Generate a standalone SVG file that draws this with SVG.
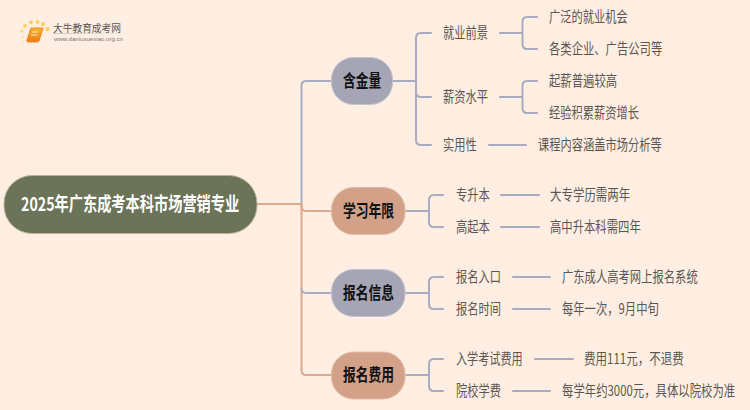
<svg xmlns="http://www.w3.org/2000/svg" width="750" height="410" viewBox="0 0 750 410">
<defs>
<linearGradient id="book" x1="0" y1="0" x2="0" y2="1"><stop offset="0" stop-color="#f7b32e"/><stop offset="1" stop-color="#ea7f12"/></linearGradient>
<linearGradient id="rule" x1="0" y1="0" x2="1" y2="0"><stop offset="0" stop-color="#cfc8c0"/><stop offset="1" stop-color="#cfc8c0" stop-opacity="0"/></linearGradient>
</defs>
<style>
text{font-family:"Noto Sans CJK SC","Liberation Sans",sans-serif;dominant-baseline:central}
.leaf{font-size:15px;fill:#5a5654}
.main{font-size:17px;font-weight:700;fill:#111}
.root{font-size:19px;font-weight:700;fill:#fff}
.c{fill:none;stroke-width:2;stroke-linecap:round}
.b{stroke:#a9abc0}
.t{stroke:#dba98d}
.nb{fill:#a5a5b5;stroke:#c4c4d0;stroke-width:1}
.nt{fill:#d2a187;stroke:#e3bca6;stroke-width:1}
</style>
<rect width="750" height="410" fill="#ffeee1"/>
<g id="logo">
<circle cx="25" cy="26" r="2" fill="#fbd36b"/><circle cx="22" cy="31" r="1.500" fill="#fbd36b"/><circle cx="31" cy="22.500" r="2" fill="#fbcf5e"/><circle cx="37.500" cy="22" r="2" fill="#fbcf5e"/><circle cx="43" cy="24" r="2" fill="#fbcf5e"/><circle cx="47.500" cy="29" r="2.200" fill="#fbd36b"/><circle cx="23" cy="37" r="1.200" fill="#fce0a0"/><circle cx="23.500" cy="42" r="1" fill="#fce0a0"/>
<path d="M31 28H43L39 41Q38 42 37 42H28Q26.500 42 27 40Z" fill="url(#book)" stroke="#e98a1c" stroke-width="1"/>
<path d="M32 32H38M31 35H37" stroke="#fff1c8" stroke-width="1" fill="none"/>
<text x="53" y="27" style="font-size:10px;fill:#555" textLength="68" lengthAdjust="spacingAndGlyphs">大牛教育成考网</text>
<rect x="53" y="33" width="80" height="1" fill="url(#rule)"/>
<text x="54" y="39" style="font-size:6px;fill:#777;font-family:'Liberation Sans',sans-serif" textLength="69" lengthAdjust="spacingAndGlyphs">www.daniuxuexiao.org.cn</text>
</g>
<g id="connectors">
<path class="c t" d="M257 204H301"/>
<path class="c b" d="M331 81H306Q301.500 81 301.500 86V204"/>
<path class="c t" d="M301.500 204V206Q301.500 211 306 211H331"/>
<path class="c t" d="M301.500 204V370Q301.500 375 306 375H331"/>
<path class="c b" d="M331 293H306Q302 293 301.500 289"/>
<path class="c b" d="M393 81H416"/>
<path class="c b" d="M431 33H421Q416 33 416 38V140Q416 145 421 145H431"/>
<path class="c b" d="M416 92Q416 97 421 97H431"/>
<path class="c b" d="M500 33H522M537 17H527Q522.500 17 522.500 22V44Q522.500 49 527 49H537"/>
<path class="c b" d="M500 97H522M537 81H527Q522.500 81 522.500 86V108Q522.500 113 527 113H537"/>
<path class="c b" d="M489 145H526"/>
<path class="c b" d="M406 211H429M443 195H434Q429 195 429 200V222Q429 227 434 227H443"/>
<path class="c b" d="M501 195H539M501 227H539"/>
<path class="c b" d="M406 293H429M443 277H434Q429 277 429 282V304Q429 309 434 309H443"/>
<path class="c b" d="M513 277H550M513 309H550"/>
<path class="c b" d="M406 375H429M443 359H434Q429 359 429 364V386Q429 391 434 391H443"/>
<path class="c b" d="M535 359H573M513 391H550"/>
</g>
<g id="root"><rect x="4" y="175.500" width="253" height="58" rx="28" fill="#6b7358" stroke="#b7b296"/><text class="root" transform="translate(21 203) scale(.75 1)" textLength="291" lengthAdjust="spacingAndGlyphs">2025年广东成考本科市场营销专业</text></g>
<g id="n1"><rect class="nb" x="331.500" y="57.500" width="61" height="47" rx="22"/><text class="main" transform="translate(343 80) scale(.75 1)" textLength="51" lengthAdjust="spacingAndGlyphs">含金量</text></g>
<g id="n2"><rect class="nt" x="331.500" y="187.500" width="73.500" height="47" rx="22"/><text class="main" transform="translate(343 210) scale(.75 1)" textLength="68" lengthAdjust="spacingAndGlyphs">学习年限</text></g>
<g id="n3"><rect class="nb" x="331.500" y="269.500" width="73.500" height="47" rx="22"/><text class="main" transform="translate(343 292) scale(.75 1)" textLength="68" lengthAdjust="spacingAndGlyphs">报名信息</text></g>
<g id="n4"><rect class="nt" x="331.500" y="352" width="73.500" height="47" rx="22"/><text class="main" transform="translate(343 374) scale(.75 1)" textLength="68" lengthAdjust="spacingAndGlyphs">报名费用</text></g>
<g id="l1"><text class="leaf" transform="translate(443 32) scale(.75 1)" textLength="60" lengthAdjust="spacingAndGlyphs">就业前景</text></g>
<g id="l2"><text class="leaf" transform="translate(549 16) scale(.75 1)" textLength="105" lengthAdjust="spacingAndGlyphs">广泛的就业机会</text></g>
<g id="l3"><text class="leaf" transform="translate(549 48) scale(.75 1)" textLength="151" lengthAdjust="spacingAndGlyphs">各类企业、广告公司等</text></g>
<g id="l4"><text class="leaf" transform="translate(443 96) scale(.75 1)" textLength="60" lengthAdjust="spacingAndGlyphs">薪资水平</text></g>
<g id="l5"><text class="leaf" transform="translate(549 80) scale(.75 1)" textLength="91" lengthAdjust="spacingAndGlyphs">起薪普遍较高</text></g>
<g id="l6"><text class="leaf" transform="translate(549 112) scale(.75 1)" textLength="120" lengthAdjust="spacingAndGlyphs">经验积累薪资增长</text></g>
<g id="l7"><text class="leaf" transform="translate(443 144) scale(.75 1)" textLength="45" lengthAdjust="spacingAndGlyphs">实用性</text></g>
<g id="l8"><text class="leaf" transform="translate(538 144) scale(.75 1)" textLength="165" lengthAdjust="spacingAndGlyphs">课程内容涵盖市场分析等</text></g>
<g id="l9"><text class="leaf" transform="translate(456 194) scale(.75 1)" textLength="45" lengthAdjust="spacingAndGlyphs">专升本</text></g>
<g id="l10"><text class="leaf" transform="translate(550 194) scale(.75 1)" textLength="107" lengthAdjust="spacingAndGlyphs">大专学历需两年</text></g>
<g id="l11"><text class="leaf" transform="translate(456 226) scale(.75 1)" textLength="45" lengthAdjust="spacingAndGlyphs">高起本</text></g>
<g id="l12"><text class="leaf" transform="translate(550 226) scale(.75 1)" textLength="121" lengthAdjust="spacingAndGlyphs">高中升本科需四年</text></g>
<g id="l13"><text class="leaf" transform="translate(456 276) scale(.75 1)" textLength="60" lengthAdjust="spacingAndGlyphs">报名入口</text></g>
<g id="l14"><text class="leaf" transform="translate(562 276) scale(.75 1)" textLength="181" lengthAdjust="spacingAndGlyphs">广东成人高考网上报名系统</text></g>
<g id="l15"><text class="leaf" transform="translate(456 308) scale(.75 1)" textLength="60" lengthAdjust="spacingAndGlyphs">报名时间</text></g>
<g id="l16"><text class="leaf" transform="translate(562 308) scale(.75 1)" textLength="129" lengthAdjust="spacingAndGlyphs">每年一次，9月中旬</text></g>
<g id="l17"><text class="leaf" transform="translate(456 358) scale(.75 1)" textLength="89" lengthAdjust="spacingAndGlyphs">入学考试费用</text></g>
<g id="l18"><text class="leaf" transform="translate(584 358) scale(.75 1)" textLength="133" lengthAdjust="spacingAndGlyphs">费用111元，不退费</text></g>
<g id="l19"><text class="leaf" transform="translate(456 390) scale(.75 1)" textLength="60" lengthAdjust="spacingAndGlyphs">院校学费</text></g>
<g id="l20"><text class="leaf" transform="translate(562 390) scale(.75 1)" textLength="231" lengthAdjust="spacingAndGlyphs">每学年约3000元，具体以院校为准</text></g>
</svg>
